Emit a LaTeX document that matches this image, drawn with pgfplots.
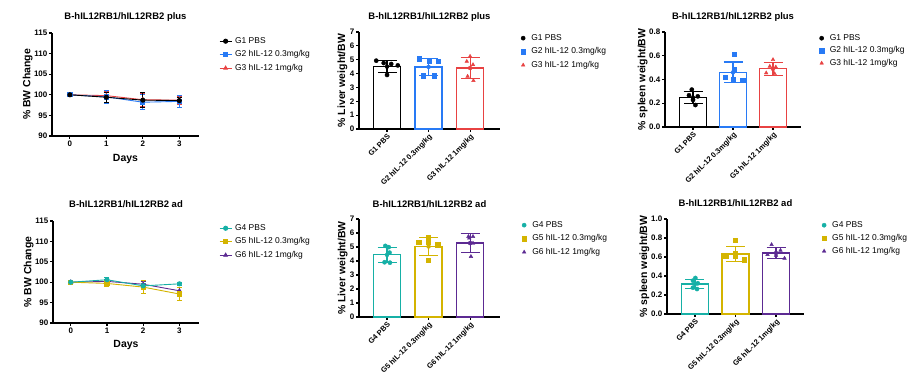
\documentclass[border=0pt]{standalone}
\usepackage{fontspec}
\setmainfont{Liberation Sans}
\usepackage{pgfplots}
\pgfplotsset{compat=1.18}
\definecolor{cBlue}{RGB}{40,122,245}
\definecolor{cRed}{RGB}{232,66,66}
\definecolor{cTeal}{RGB}{22,176,166}
\definecolor{cGold}{RGB}{212,180,0}
\definecolor{cPurple}{RGB}{92,42,146}
\pgfplotsset{
  gp/.style={
    scale only axis, clip=false, anchor=south west,
    axis x line*=bottom, axis y line*=left,
    axis line style={line width=1.1pt,-},
    tick align=outside, major tick length=3bp,
    tick style={line width=1.1pt, black},
    tick label style={font=\fontsize{8}{9}\selectfont\bfseries, inner sep=1.5bp},
    /pgf/number format/assume math mode=true,
    title style={font=\fontsize{9.5}{10}\selectfont\bfseries, anchor=base, at={(0.5,1)}},
    label style={font=\fontsize{10.5}{11}\selectfont\bfseries},
    legend style={draw=none, fill=none, anchor=north west, font=\fontsize{8.5}{9}\selectfont,
      inner sep=0pt, /tikz/column sep=2bp,
      nodes={inner sep=1bp, text height=5.5bp, text depth=1.5bp}},
    legend cell align=left,
  },
  lineax/.style={gp, xmin=-0.49, xmax=3.54, ymin=90, ymax=115, xtick={0,1,2,3},
    ytick={90,95,100,105,110,115}, xlabel={Days}, ylabel={\% BW Change},
    reverse legend,
    legend image code/.code={\draw[mark repeat=2,mark phase=2,#1] plot coordinates {(0bp,0bp) (6bp,0bp) (12bp,0bp)};},
  },
  lp/.style={line width=0.9pt, mark size=2.1bp, mark options={solid},
    error bars/.cd, y dir=both, y explicit,
    error bar style={line width=0.9pt},
    error mark options={rotate=90, mark size=2.5bp, line width=0.9pt}, /pgfplots/.cd},
  barax/.style={gp, xtick={0,1,2},
    x tick label style={rotate=45, anchor=north east, font=\fontsize{7.5}{8}\selectfont\bfseries, inner sep=1bp},
    legend style={/tikz/column sep=5bp},
    legend image code/.code={\draw[mark repeat=2,mark phase=2,#1] plot coordinates {(0bp,0bp) (4bp,0bp) (8bp,0bp)};},
  },
  bp/.style={ybar, bar width=27bp, bar shift=0pt, fill=white, draw=#1, line width=1.2pt, forget plot},
  ep/.style={forget plot, only marks, mark=none, color=#1,
    error bars/.cd, y dir=both, y explicit,
    error bar style={line width=1.2pt, color=#1},
    error mark options={rotate=90, mark size=9.5bp, line width=1.2pt, color=#1}, /pgfplots/.cd},
  sp/.style={only marks, color=#1, mark size=2.1bp},
}
\begin{document}
\begin{tikzpicture}
\useasboundingbox (0,0) rectangle (914bp,377bp);
% ---------------- Panel 1
\begin{axis}[lineax, at={(52bp,241bp)}, width=147bp, height=103bp,
  title={B-hIL12RB1/hIL12RB2 plus}, title style={yshift=7.5bp},
  ylabel style={at={(axis description cs:-0.165,0.5)}, anchor=center},
  xlabel style={at={(axis description cs:0.5,-0.223)}, anchor=center},
  legend style={at={(axis description cs:1.136,0.966)}, /tikz/row sep=4.5bp}]
\addplot[lp, color=cRed, mark=triangle*] coordinates {(0,100) +- (0,0.1) (1,99.8) +- (0,1.0) (2,98.8) +- (0,1.6) (3,98.7) +- (0,1.0)};
\addlegendentry{G3 hIL-12 1mg/kg}
\addplot[lp, color=cBlue, mark=square*] coordinates {(0,100) +- (0,0.1) (1,99.5) +- (0,1.6) (2,98.2) +- (0,1.8) (3,98.4) +- (0,1.4)};
\addlegendentry{G2 hIL-12 0.3mg/kg}
\addplot[lp, color=black, mark=*] coordinates {(0,100) +- (0,0.2) (1,99.4) +- (0,1.2) (2,98.7) +- (0,1.8) (3,98.6) +- (0,0.8)};
\addlegendentry{G1 PBS}
\end{axis}
% ---------------- Panel 2
\begin{axis}[barax, at={(359bp,248bp)}, width=141bp, height=97bp,
  xmin=-0.675, xmax=2.72, ymin=0, ymax=7, ytick={0,1,2,3,4,5,6,7},
  xticklabels={G1 PBS, G2 hIL-12 0.3mg/kg, G3 hIL-12 1mg/kg},
  title={B-hIL12RB1/hIL12RB2 plus}, title style={yshift=6.5bp},
  ylabel={\% Liver weight/BW},
  ylabel style={at={(axis description cs:-0.118,0.5)}, anchor=center},
  legend style={at={(axis description cs:1.148,0.985)}, /tikz/row sep=4.5bp}]
\addplot[bp=black] coordinates {(0,4.50)};
\addplot[bp=cBlue] coordinates {(1,4.48)};
\addplot[bp=cRed] coordinates {(2,4.40)};
\addplot[sp=black, mark=*] coordinates {(-0.26,4.93) (-0.08,4.76) (0.1,4.69) (0.26,4.59) (0,3.90)};
\addlegendentry{G1 PBS}
\addplot[sp=cBlue, mark=square*] coordinates {(0.78,5.08) (1.02,4.93) (1.24,4.91) (0.88,3.85) (1.13,3.85)};
\addlegendentry{G2 hIL-12 0.3mg/kg}
\addplot[sp=cRed, mark=triangle*] coordinates {(2,5.24) (1.92,4.88) (2.07,4.64) (1.94,3.80) (2.08,3.49)};
\addlegendentry{G3 hIL-12 1mg/kg}
\addplot[ep=black] coordinates {(0,4.50) +- (0,0.42)};
\addplot[ep=cBlue] coordinates {(1,4.48) +- (0,0.62)};
\addplot[ep=cRed] coordinates {(2,4.40) +- (0,0.77)};
\end{axis}
% ---------------- Panel 3
\begin{axis}[barax, at={(665bp,250bp)}, width=136bp, height=95bp,
  xmin=-0.7, xmax=2.7, ymin=0, ymax=0.8, ytick={0,0.2,0.4,0.6,0.8},
  yticklabel style={/pgf/number format/.cd, fixed, fixed zerofill, precision=1},
  xticklabels={G1 PBS, G2 hIL-12 0.3mg/kg, G3 hIL-12 1mg/kg},
  title={B-hIL12RB1/hIL12RB2 plus}, title style={yshift=6.5bp},
  ylabel={\% spleen weight/BW},
  ylabel style={at={(axis description cs:-0.165,0.5)}, anchor=center},
  legend style={at={(axis description cs:1.135,0.984)}, /tikz/row sep=3.5bp}]
\addplot[bp=black] coordinates {(0,0.247)};
\addplot[bp=cBlue] coordinates {(1,0.460)};
\addplot[bp=cRed] coordinates {(2,0.490)};
\addplot[sp=black, mark=*] coordinates {(-0.03,0.315) (-0.1,0.267) (0.12,0.258) (0.0,0.228) (0.06,0.185)};
\addlegendentry{G1 PBS}
\addplot[sp=cBlue, mark=square*] coordinates {(1.02,0.612) (1.02,0.483) (0.8,0.421) (1.0,0.401) (1.24,0.393)};
\addlegendentry{G2 hIL-12 0.3mg/kg}
\addplot[sp=cRed, mark=triangle*] coordinates {(2,0.567) (1.92,0.511) (2.07,0.505) (1.83,0.455) (2.04,0.449)};
\addlegendentry{G3 hIL-12 1mg/kg}
\addplot[ep=black] coordinates {(0,0.247) +- (0,0.052)};
\addplot[ep=cBlue] coordinates {(1,0.460) +- (0,0.088)};
\addplot[ep=cRed] coordinates {(2,0.490) +- (0,0.055)};
\end{axis}
% ---------------- Panel 4
\begin{axis}[lineax, at={(53bp,54bp)}, width=146bp, height=102bp,
  title={B-hIL12RB1/hIL12RB2 ad}, title style={yshift=7.5bp},
  ylabel style={at={(axis description cs:-0.166,0.5)}, anchor=center},
  xlabel style={at={(axis description cs:0.5,-0.216)}, anchor=center},
  legend style={at={(axis description cs:1.137,0.975)}, /tikz/row sep=4.5bp}]
\addplot[lp, color=cPurple, mark=triangle*] coordinates {(0,100) +- (0,0.2) (1,100.2) +- (0,0.5) (2,99.5) +- (0,0.6) (3,97.9) +- (0,0.9)};
\addlegendentry{G6 hIL-12 1mg/kg}
\addplot[lp, color=cGold, mark=square*] coordinates {(0,100) +- (0,0.3) (1,99.7) +- (0,0.7) (2,98.8) +- (0,1.6) (3,97.1) +- (0,1.6)};
\addlegendentry{G5 hIL-12 0.3mg/kg}
\addplot[lp, color=cTeal, mark=*] coordinates {(0,100) +- (0,0.2) (1,100.6) +- (0,0.6) (2,99.1) +- (0,0.6) (3,99.6) +- (0,0.4)};
\addlegendentry{G4 PBS}
\end{axis}
% ---------------- Panel 5
\begin{axis}[barax, at={(359bp,60bp)}, width=141bp, height=98bp,
  xmin=-0.675, xmax=2.72, ymin=0, ymax=7, ytick={0,1,2,3,4,5,6,7},
  xticklabels={G4 PBS, G5 hIL-12 0.3mg/kg, G6 hIL-12 1mg/kg},
  title={B-hIL12RB1/hIL12RB2 ad}, title style={yshift=6bp},
  ylabel={\% Liver weight/BW},
  ylabel style={at={(axis description cs:-0.115,0.5)}, anchor=center},
  legend style={at={(axis description cs:1.155,0.985)}, /tikz/row sep=4.5bp}]
\addplot[bp=cTeal] coordinates {(0,4.44)};
\addplot[bp=cGold] coordinates {(1,5.04)};
\addplot[bp=cPurple] coordinates {(2,5.28)};
\addplot[sp=cTeal, mark=*] coordinates {(-0.04,5.08) (0.04,4.99) (0.06,4.60) (-0.06,3.91) (0.07,3.88)};
\addlegendentry{G4 PBS}
\addplot[sp=cGold, mark=square*] coordinates {(0.76,5.32) (1,5.68) (1,5.32) (1.22,5.16) (1,4.08)};
\addlegendentry{G5 hIL-12 0.3mg/kg}
\addplot[sp=cPurple, mark=triangle*] coordinates {(1.96,5.75) (2.07,5.75) (1.98,5.63) (2.07,5.27) (2.02,4.32)};
\addlegendentry{G6 hIL-12 1mg/kg}
\addplot[ep=cTeal] coordinates {(0,4.44) +- (0,0.55)};
\addplot[ep=cGold] coordinates {(1,5.04) +- (0,0.62)};
\addplot[ep=cPurple] coordinates {(2,5.28) +- (0,0.66)};
\end{axis}
% ---------------- Panel 6
\begin{axis}[barax, at={(667bp,63bp)}, width=137bp, height=95bp,
  xmin=-0.69, xmax=2.69, ymin=0, ymax=1.0, ytick={0,0.2,0.4,0.6,0.8,1.0},
  yticklabel style={/pgf/number format/.cd, fixed, fixed zerofill, precision=1},
  xticklabels={G4 PBS, G5 hIL-12 0.3mg/kg, G6 hIL-12 1mg/kg},
  title={B-hIL12RB1/hIL12RB2 ad}, title style={yshift=7bp},
  ylabel={\% spleen weight/BW},
  ylabel style={at={(axis description cs:-0.165,0.5)}, anchor=center},
  legend style={at={(axis description cs:1.13,0.984)}, /tikz/row sep=4bp}]
\addplot[bp=cTeal] coordinates {(0,0.316)};
\addplot[bp=cGold] coordinates {(1,0.632)};
\addplot[bp=cPurple] coordinates {(2,0.642)};
\addplot[sp=cTeal, mark=*] coordinates {(0.01,0.379) (-0.05,0.351) (0.07,0.323) (-0.05,0.277) (0.05,0.263)};
\addlegendentry{G4 PBS}
\addplot[sp=cGold, mark=square*] coordinates {(1,0.775) (1,0.642) (1,0.607) (0.76,0.614) (1.21,0.572)};
\addlegendentry{G5 hIL-12 0.3mg/kg}
\addplot[sp=cPurple, mark=triangle*] coordinates {(1.89,0.73) (1.79,0.625) (2.11,0.67) (2,0.617) (2.21,0.586)};
\addlegendentry{G6 hIL-12 1mg/kg}
\addplot[ep=cTeal] coordinates {(0,0.316) +- (0,0.05)};
\addplot[ep=cGold] coordinates {(1,0.632) +- (0,0.077)};
\addplot[ep=cPurple] coordinates {(2,0.642) +- (0,0.06)};
\end{axis}
\end{tikzpicture}
\end{document}
